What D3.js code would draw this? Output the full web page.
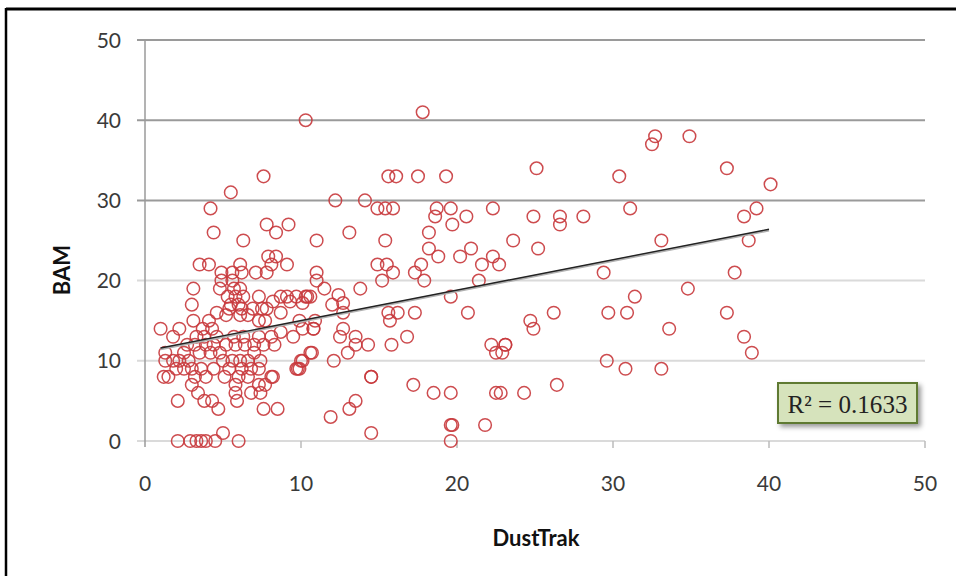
<!DOCTYPE html>
<html><head><meta charset="utf-8">
<script src="https://cdn.jsdelivr.net/npm/d3@7"></script>
<style>body{margin:0;background:#fff}svg{display:block}</style>
</head><body>
<svg id="c" width="956" height="576"></svg>
<script>
// DustTrak (x) values
const dustTrak = [
 1.0,1.3,1.3,1.8,1.2,1.5,1.8,2.2,2.0,2.5,2.2,2.8,2.1,2.1,2.9,3.3,3.6,3.9,4.5,6.0,5.0,
 3.1,3.0,3.1,4.1,3.7,4.3,3.3,3.8,4.6,2.7,3.2,3.9,4.4,2.5,3.5,4.2,4.8,3.0,3.6,4.4,3.2,3.9,3.0,3.4,3.8,4.3,4.7,
 3.5,4.1,4.2,4.4,5.5,4.9,5.6,6.2,7.1,7.8,4.9,5.6,4.8,5.7,6.1,6.1,
 5.3,5.8,6.3,5.5,6.0,5.4,6.2,7.3,8.7,9.1,9.7,10.4,8.2,9.3,10.1,
 6.9,7.5,7.8,4.6,5.2,6.1,6.6,7.3,7.7,8.7,
 5.7,6.3,7.3,8.1,8.7,9.5,10.1,10.8,
 5.2,5.8,6.4,7.0,7.6,8.3,5.0,5.6,6.1,6.6,7.0,7.4,5.4,6.2,6.8,7.3,5.1,6.0,6.6,8.2,9.7,10.6,
 5.8,5.8,5.9,7.4,7.3,7.7,6.8,8.1,7.6,8.5,
 6.3,7.9,8.4,8.1,9.1,7.6,7.8,9.2,8.4,
 10.3,17.8,15.6,16.1,17.5,19.3,12.2,14.1,14.9,15.4,15.9,18.7,18.6,19.6,19.7,20.6,22.3,
 11.0,13.1,15.4,18.2,18.2,18.8,20.2,20.9,21.6,22.3,22.7,21.4,14.9,15.5,15.9,15.2,17.7,17.3,17.9,
 11.0,11.0,11.5,13.8,10.3,10.6,12.4,12.7,12.0,19.6,9.9,10.9,12.7,15.6,16.2,15.7,17.3,20.7,10.8,
 12.7,12.5,13.5,13.5,13.0,14.3,15.8,16.8,10.7,12.1,9.9,10.1,10.0,9.8,22.2,23.1,22.5,
 14.5,14.5,17.2,18.5,19.6,22.5,13.5,13.1,11.9,14.5,19.6,19.7,19.6,21.8,
 25.1,32.7,32.5,34.9,37.3,40.1,30.4,31.1,39.2,38.4,24.9,26.6,26.6,28.1,23.6,25.2,33.1,38.7,
 29.4,37.8,34.8,31.4,24.7,24.9,26.2,29.7,30.9,33.6,37.3,38.4,38.9,23.1,22.9,29.6,30.8,33.1,26.4,24.3,22.8
];
// BAM (y) values
const bam = [
 14,11,10,10,8,8,13,14,9,9,10,10,5,0,0,0,0,0,0,0,1,
 19,17,15,15,14,14,13,13,13,12,12,12,12,11,11,11,11,9,9,9,8,8,7,6,5,5,4,
 22,22,29,26,31,21,21,21,21,21,20,20,19,19,19,22,
 18,18,18,17,17,16.5,16.5,18,18,18,18,18,17.4,17.4,17.2,
 16.5,16.5,16.5,16,15.7,15.7,15.7,15,15,16,
 13,13,13,13,13.6,13,14,14,
 12,12,12,12,12,12,10,10,10,10,11,10,9,9,9,9,8,8,8,8,9,11,
 7,6,5,6,7,7,6,8,4,4,
 25,23,23,22,22,33,27,27,26,
 40,41,33,33,33,33,30,30,29,29,29,29,28,29,27,28,29,
 25,26,25,26,24,23,23,24,22,23,22,20,22,22,21,20,22,21,20,
 21,20,19,19,18,18,18.2,17.2,17,18,15,15,16,16,16,15,16,16,14,
 14,13,13,12,11,12,12,13,11,10,9,10,10,9,12,12,11,
 8,8,7,6,6,6,5,4,3,1,2,2,0,2,
 34,38,37,38,34,32,33,29,29,28,28,28,27,28,25,24,25,25,
 21,21,19,18,15,14,16,16,16,14,16,13,11,12,11,10,9,9,7,6,6
];
const xTicks = [0,10,20,30,40,50];
const yTicks = [0,10,20,30,40,50];
const trendX = [1, 40];
const trendY = [11.6, 26.4];
const r2Label = "R\u00B2 = 0.1633";
const xTitle = "DustTrak";
const yTitle = "BAM";

const svg = d3.select("#c");
const x = d3.scaleLinear().domain([0,50]).range([145,925]);
const y = d3.scaleLinear().domain([0,50]).range([441,40]);

// frame
svg.append("line").attr("x1",6).attr("x2",956).attr("y1",9).attr("y2",9).attr("stroke","#000").attr("stroke-width",3);
svg.append("line").attr("x1",6).attr("x2",6).attr("y1",8).attr("y2",576).attr("stroke","#000").attr("stroke-width",2.5);

// gridlines
svg.append("g").selectAll("line").data(yTicks).join("line")
  .attr("x1",137).attr("x2",x(50))
  .attr("y1",d=>y(d)).attr("y2",d=>y(d))
  .attr("stroke",d=>d>=30?"#9a9a9a":"#dadada").attr("stroke-width",2);

// y axis line
svg.append("line").attr("x1",x(0)).attr("x2",x(0)).attr("y1",y(50)).attr("y2",y(0)+6).attr("stroke","#9a9a9a").attr("stroke-width",1.5);

// x axis ticks
svg.append("g").selectAll("line").data(xTicks.slice(1)).join("line")
  .attr("x1",d=>x(d)).attr("x2",d=>x(d)).attr("y1",y(0)).attr("y2",y(0)+7)
  .attr("stroke","#bbbbbb").attr("stroke-width",1.5);

const tickFont = "Lato, 'Open Sans', sans-serif";
svg.append("g").selectAll("text").data(yTicks).join("text")
  .attr("x",121).attr("y",d=>y(d)).attr("dy","0.36em").attr("text-anchor","end")
  .attr("font-family",tickFont).attr("font-size",21).attr("fill","#3a3a3a").text(d=>d);
svg.append("g").selectAll("text").data(xTicks).join("text")
  .attr("x",d=>x(d)).attr("y",483).attr("dy","0.36em").attr("text-anchor","middle")
  .attr("font-family",tickFont).attr("font-size",21).attr("fill","#3a3a3a").text(d=>d);

svg.append("text").attr("x",536).attr("y",538).attr("dy","0.36em").attr("text-anchor","middle")
  .attr("font-family",tickFont).attr("font-weight","bold").attr("font-size",22).attr("fill","#111").text(xTitle);
svg.append("text").attr("transform","translate(62,270) rotate(-90)").attr("dy","0.36em").attr("text-anchor","middle")
  .attr("font-family",tickFont).attr("font-weight","bold").attr("font-size",22).attr("fill","#111").text(yTitle);

// points
const pts = dustTrak.map((d,i)=>({x:d,y:bam[i]}));
svg.append("g").selectAll("circle").data(pts).join("circle")
  .attr("cx",d=>x(d.x)).attr("cy",d=>y(d.y)).attr("r",6.3)
  .attr("fill","none").attr("stroke","#c8383c").attr("stroke-width",1.5).attr("stroke-opacity",0.9);

// trend line
const line = d3.line().x(d=>x(d[0])).y(d=>y(d[1]));
svg.append("path").datum(trendX.map((d,i)=>[d,trendY[i]])).attr("d",line)
  .attr("stroke","#b0b0b0").attr("stroke-width",2.5).attr("fill","none").attr("transform","translate(0,1)");
svg.append("path").datum(trendX.map((d,i)=>[d,trendY[i]])).attr("d",line)
  .attr("stroke","#222").attr("stroke-width",1.4).attr("fill","none");

// R2 box
const defs = svg.append("defs");
const f = defs.append("filter").attr("id","sh").attr("x","-20%").attr("y","-20%").attr("width","150%").attr("height","160%");
f.append("feDropShadow").attr("dx",3).attr("dy",3).attr("stdDeviation",2.5).attr("flood-color","#000").attr("flood-opacity",0.4);
svg.append("rect").attr("x",778).attr("y",383).attr("width",139).attr("height",40)
  .attr("fill","#d6e3bc").attr("stroke","#5e7a32").attr("stroke-width",2).attr("filter","url(#sh)");
svg.append("text").attr("x",847.5).attr("y",404).attr("dy","0.35em").attr("text-anchor","middle")
  .attr("font-family","'Liberation Serif','DejaVu Serif',serif").attr("font-size",25).attr("textLength",120).attr("lengthAdjust","spacingAndGlyphs")
  .attr("fill","#222").text(r2Label);
</script>
</body></html>
